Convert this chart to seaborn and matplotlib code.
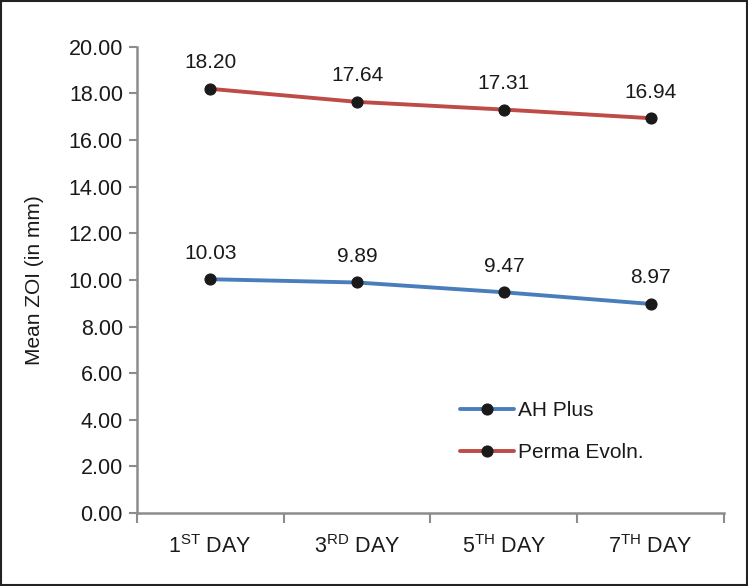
import numpy as np
import pandas as pd
import matplotlib
matplotlib.use("Agg")
import matplotlib.pyplot as plt
import seaborn as sns
from matplotlib.patches import Rectangle

# ==============================
# DATA
# ==============================
DAYS = [r"1$^{\mathrm{ST}}$ DAY", r"3$^{\mathrm{RD}}$ DAY", r"5$^{\mathrm{TH}}$ DAY", r"7$^{\mathrm{TH}}$ DAY"]
AH_PLUS = [10.03, 9.89, 9.47, 8.97]
PERMA_EVOLN = [18.20, 17.64, 17.31, 16.94]
SERIES = ["AH Plus", "Perma Evoln."]
COLORS = ["#4a7ebb", "#be4b48"]
Y_TICKS = [0, 2, 4, 6, 8, 10, 12, 14, 16, 18, 20]

# ==============================
# STYLE
# ==============================
sns.set_style("white")
plt.rcParams["font.family"] = ["Liberation Sans", "DejaVu Sans"]
plt.rcParams["mathtext.fontset"] = "custom"
plt.rcParams["mathtext.rm"] = "Liberation Sans"

df = pd.DataFrame({
    "x": list(range(len(DAYS))) * 2,
    "value": AH_PLUS + PERMA_EVOLN,
    "Series": [SERIES[0]] * len(DAYS) + [SERIES[1]] * len(DAYS),
})

fig = plt.figure(figsize=(7.48, 5.86), dpi=100)
ax = fig.add_axes([0.183, 0.1246, 0.785, 0.7954])

sns.lineplot(data=df, x="x", y="value", hue="Series", palette=COLORS,
             marker="o", markersize=8, markerfacecolor="#1a1a1a",
             markeredgecolor="#1a1a1a", linewidth=2.8, ax=ax)

# data labels
for vals in [AH_PLUS, PERMA_EVOLN]:
    for i, v in enumerate(vals):
        ax.annotate(f"{v:.2f}", (i, v), xytext=(0, 12), textcoords="offset points",
                    ha="center", va="bottom", fontsize=15, color="#1a1a1a")

# axes
ax.set_xlim(-0.5, len(DAYS) - 0.5)
ax.set_ylim(0, 20)
ax.set_yticks(Y_TICKS)
ax.set_yticklabels([f"{t:.2f}" for t in Y_TICKS], fontsize=15.5, color="#1a1a1a")
ax.set_xticks(np.arange(-0.5, len(DAYS), 1.0))
ax.set_xticklabels([])
ax.set_xticks(range(len(DAYS)), minor=True)
ax.set_xticklabels(DAYS, minor=True, fontsize=15.5, color="#1a1a1a")
ax.tick_params(axis="x", which="major", length=7, width=1.5, color="#8c8c8c", direction="out", bottom=True)
ax.tick_params(axis="x", which="minor", length=0, pad=16)
ax.tick_params(axis="y", length=6, width=1.5, color="#8c8c8c", direction="out", left=True, pad=4)
ax.set_xlabel("")
ax.set_ylabel("Mean ZOI (in mm)", fontsize=15, color="#1a1a1a", labelpad=18)

sns.despine(ax=ax)
for s in ["left", "bottom"]:
    ax.spines[s].set_color("#8c8c8c")
    ax.spines[s].set_linewidth(1.8)

leg = ax.legend(loc="upper left", bbox_to_anchor=(0.518, 0.28), frameon=False,
                fontsize=15, handlelength=2.6, labelspacing=1.1, handletextpad=0.2)
for t in leg.get_texts():
    t.set_color("#1a1a1a")

# border
fig.patches.append(Rectangle((0.001, 0.001), 0.998, 0.998, transform=fig.transFigure,
                             fill=False, edgecolor="#222222", linewidth=1.5))

fig.savefig("out.png", dpi=100)
